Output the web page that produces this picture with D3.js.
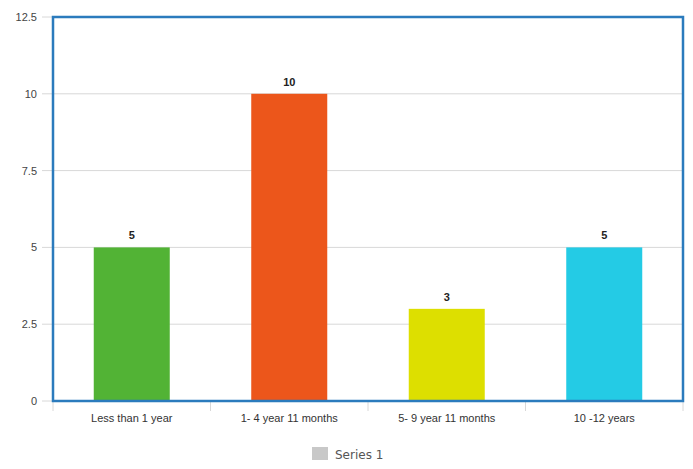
<!DOCTYPE html>
<html><head><meta charset="utf-8">
<script src="https://cdn.jsdelivr.net/npm/d3@7"></script>
<style>body{margin:0;background:#fff}svg{display:block}</style>
</head><body>
<svg id="c" width="693" height="469"></svg>
<script>
const categories = ["Less than 1 year", "1- 4 year 11 months", "5- 9 year 11 months", "10 -12 years"];
const values = [5, 10, 3, 5];
const colors = ["#52b335", "#ec561b", "#dddf00", "#24cbe5"];
const yTicks = [0, 2.5, 5, 7.5, 10, 12.5];
const seriesName = "Series 1";

const svg = d3.select("#c");
const L = 53, R = 683, T = 17, B = 401;
const x = d3.scaleBand().domain(categories).range([L, R]).paddingInner(0).paddingOuter(0);
const y = d3.scaleLinear().domain([0, 12.5]).range([B, T]);

// gridlines
svg.append("g").selectAll("line").data(yTicks).join("line")
  .attr("x1", 42).attr("x2", R).attr("y1", d => y(d)).attr("y2", d => y(d))
  .attr("stroke", "#d8d8d8").attr("stroke-width", 1);

// y labels
svg.append("g").selectAll("text").data(yTicks).join("text")
  .attr("x", 37).attr("y", d => y(d) + 4).attr("text-anchor", "end")
  .attr("font-family", "Liberation Sans, Arial, sans-serif").attr("font-size", 11).attr("fill", "#444")
  .text(d => d);

// x ticks
const xt = [...categories.map(c => x(c)), R];
svg.append("g").selectAll("line").data(xt).join("line")
  .attr("x1", d => d).attr("x2", d => d).attr("y1", B).attr("y2", B + 10)
  .attr("stroke", "#d8d8d8").attr("stroke-width", 1);

// bars
const bw = 76;
svg.append("g").selectAll("rect").data(values).join("rect")
  .attr("x", (d, i) => x(categories[i]) + x.bandwidth() / 2 - bw / 2)
  .attr("width", bw)
  .attr("y", d => y(d)).attr("height", d => B - y(d))
  .attr("fill", (d, i) => colors[i]);

// value labels
svg.append("g").selectAll("text").data(values).join("text")
  .attr("x", (d, i) => x(categories[i]) + x.bandwidth() / 2)
  .attr("y", d => y(d) - 8).attr("text-anchor", "middle")
  .attr("font-family", "Liberation Sans, Arial, sans-serif").attr("font-size", 11).attr("font-weight", "bold").attr("fill", "#222")
  .text(d => d);

// category labels
svg.append("g").selectAll("text").data(categories).join("text")
  .attr("x", d => x(d) + x.bandwidth() / 2).attr("y", B + 21).attr("text-anchor", "middle")
  .attr("font-family", "Liberation Sans, Arial, sans-serif").attr("font-size", 11).attr("fill", "#333")
  .text(d => d);

// border
svg.append("rect").attr("x", L).attr("y", T).attr("width", R - L).attr("height", B - T)
  .attr("fill", "none").attr("stroke", "#2b7bbd").attr("stroke-width", 2.5);

// legend
svg.append("rect").attr("x", 312).attr("y", 447).attr("width", 16).attr("height", 13).attr("fill", "#c8c8c8");
svg.append("text").attr("x", 335).attr("y", 459)
  .attr("font-family", "DejaVu Sans, sans-serif").attr("font-size", 12).attr("fill", "#555")
  .text(seriesName);
</script>
</body></html>
